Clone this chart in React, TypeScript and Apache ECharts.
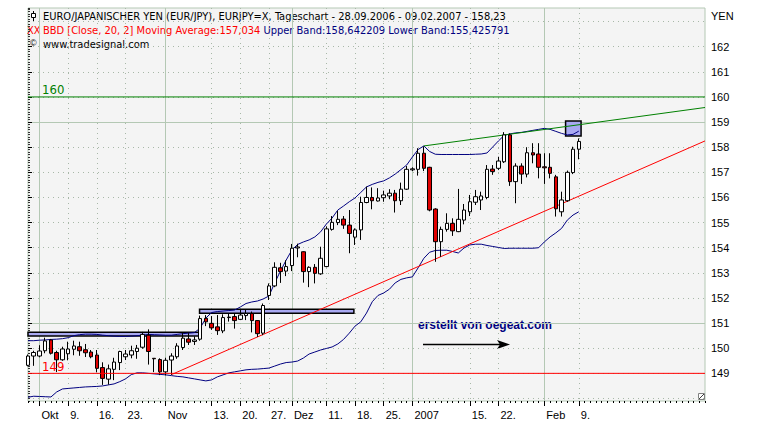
import React, { useEffect, useRef } from 'react';
import * as echarts from 'echarts';

// ---------- data ----------
const DATES = [
  '28.09.2006', '29.09.2006',
  '02.10.2006', '03.10.2006', '04.10.2006', '05.10.2006', '06.10.2006',
  '09.10.2006', '10.10.2006', '11.10.2006', '12.10.2006', '13.10.2006',
  '16.10.2006', '17.10.2006', '18.10.2006', '19.10.2006', '20.10.2006',
  '23.10.2006', '24.10.2006', '25.10.2006', '26.10.2006', '27.10.2006',
  '30.10.2006', '31.10.2006',
  '01.11.2006', '02.11.2006', '03.11.2006',
  '06.11.2006', '07.11.2006', '08.11.2006', '09.11.2006', '10.11.2006',
  '13.11.2006', '14.11.2006', '15.11.2006', '16.11.2006', '17.11.2006',
  '20.11.2006', '21.11.2006', '22.11.2006', '23.11.2006', '24.11.2006',
  '27.11.2006', '28.11.2006', '29.11.2006', '30.11.2006',
  '01.12.2006',
  '04.12.2006', '05.12.2006', '06.12.2006', '07.12.2006', '08.12.2006',
  '11.12.2006', '12.12.2006', '13.12.2006', '14.12.2006', '15.12.2006',
  '18.12.2006', '19.12.2006', '20.12.2006', '21.12.2006', '22.12.2006',
  '25.12.2006', '26.12.2006', '27.12.2006', '28.12.2006', '29.12.2006',
  '01.01.2007', '02.01.2007', '03.01.2007', '04.01.2007', '05.01.2007',
  '08.01.2007', '09.01.2007', '10.01.2007', '11.01.2007', '12.01.2007',
  '15.01.2007', '16.01.2007', '17.01.2007', '18.01.2007', '19.01.2007',
  '22.01.2007', '23.01.2007', '24.01.2007', '25.01.2007', '26.01.2007',
  '29.01.2007', '30.01.2007', '31.01.2007',
  '01.02.2007', '02.02.2007',
  '05.02.2007', '06.02.2007', '07.02.2007', '08.02.2007', '09.02.2007',
];
// empty trading-day slots to the right of the last candle
const FUTURE_SLOTS = 22;

// [open, close, low, high]
const OHLC = [
  [149.32, 149.69, 149.28, 149.75], [149.69, 149.83, 149.3, 149.9],
  [149.69, 149.89, 149.64, 150.12], [149.9, 150.29, 149.8, 150.42], [150.33, 149.8, 149.75, 150.37], [149.83, 149.54, 149.05, 149.9], [149.54, 149.97, 149.5, 150.06],
  [149.78, 149.97, 149.52, 150.26], [149.96, 150.09, 149.72, 150.3], [150.06, 149.9, 149.7, 150.26], [149.94, 149.82, 149.65, 150.17], [149.85, 149.66, 149.6, 149.93],
  [149.73, 149.2, 149.04, 149.93], [149.23, 148.8, 148.54, 149.44], [148.77, 149.18, 148.55, 149.35], [149.16, 149.45, 148.73, 149.62], [149.43, 149.87, 149.13, 149.9],
  [149.66, 149.77, 149.53, 149.93], [149.73, 149.9, 149.6, 150.1], [149.87, 150.0, 149.58, 150.13], [150.04, 150.55, 149.98, 150.65], [150.52, 149.87, 149.35, 150.75],
  [149.6, 149.58, 149.05, 149.61], [149.55, 149.06, 148.93, 149.6],
  [149.06, 149.52, 148.92, 149.62], [149.53, 149.69, 148.94, 149.8], [149.66, 150.09, 149.58, 150.2],
  [150.03, 150.4, 149.93, 150.6], [150.37, 150.24, 150.13, 150.6], [150.27, 150.33, 150.13, 150.47], [150.36, 151.18, 150.3, 151.3], [151.19, 151.05, 150.88, 151.32],
  [150.99, 150.81, 150.73, 151.28], [150.85, 150.7, 150.53, 151.32], [150.69, 151.22, 150.6, 151.35], [151.24, 151.22, 151.06, 151.39], [151.26, 151.1, 150.78, 151.39],
  [151.15, 151.32, 151.12, 151.56], [151.3, 151.38, 151.12, 151.55], [151.38, 151.1, 150.63, 151.46], [151.1, 150.58, 150.45, 151.12], [150.6, 151.7, 150.52, 151.78],
  [152.1, 152.48, 151.92, 152.58], [152.48, 153.22, 152.43, 153.42], [153.2, 153.05, 152.6, 153.4], [153.07, 153.25, 152.87, 153.5],
  [153.29, 153.98, 153.07, 154.15],
  [153.99, 154.03, 153.62, 154.16], [153.84, 153.05, 152.61, 153.86], [153.05, 153.22, 152.43, 153.26], [153.22, 152.98, 152.58, 153.35], [152.96, 153.58, 152.92, 154.04],
  [153.25, 154.75, 153.22, 154.85], [154.73, 155.01, 154.68, 155.26], [155.0, 155.13, 154.9, 155.46], [155.14, 154.9, 154.75, 155.26], [154.9, 154.57, 153.78, 155.5],
  [154.42, 154.71, 154.11, 154.77], [154.71, 155.8, 154.31, 156.03], [155.8, 156.0, 155.77, 156.43], [156.0, 155.87, 155.53, 156.4], [155.86, 155.98, 155.84, 156.37],
  [155.99, 156.1, 155.83, 156.27], [156.06, 156.17, 155.93, 156.33], [156.17, 155.87, 155.4, 156.3], [155.87, 156.33, 155.7, 156.59], [156.33, 157.12, 156.3, 157.25],
  [157.1, 157.14, 157.05, 157.2], [157.12, 157.76, 156.87, 157.96], [157.76, 157.16, 157.05, 158.03], [157.2, 155.5, 155.45, 157.22], [155.54, 154.24, 153.44, 155.57],
  [154.24, 154.73, 153.64, 154.84], [154.73, 154.97, 154.64, 155.37], [154.97, 154.67, 154.47, 155.17], [154.64, 155.13, 154.62, 156.34], [155.1, 155.5, 154.93, 155.74],
  [155.43, 155.83, 155.26, 156.1], [155.81, 156.03, 155.7, 156.3], [155.9, 156.06, 155.5, 156.23], [156.0, 157.12, 155.93, 157.29], [157.13, 157.03, 156.9, 157.29],
  [157.16, 157.45, 157.09, 157.62], [157.42, 158.49, 157.37, 158.6], [158.49, 156.63, 156.46, 158.55], [156.63, 157.25, 155.77, 157.36], [157.25, 156.93, 156.54, 157.36],
  [156.93, 157.78, 156.8, 158.0], [157.78, 157.69, 157.36, 158.16], [157.73, 157.2, 156.76, 158.16],
  [157.22, 157.18, 156.54, 157.76], [157.2, 156.96, 156.76, 157.76],
  [156.82, 155.55, 155.24, 156.9], [155.43, 155.9, 155.24, 156.23], [155.87, 157.0, 155.83, 157.07], [156.99, 157.92, 156.93, 158.02], [157.92, 158.23, 157.52, 158.35],
];

const UPPER_BAND = [
  150.3, 150.3, 150.32, 150.33, 150.35, 150.36, 150.38, 150.42, 150.5, 150.54,
  150.56, 150.56, 150.55, 150.52, 150.5, 150.48, 150.47, 150.47, 150.48, 150.5,
  150.52, 150.55, 150.54, 150.53, 150.52, 150.52, 150.55, 150.58, 150.6, 150.62,
  150.8, 151.2, 151.42, 151.46, 151.48, 151.5, 151.52, 151.64, 151.78, 151.84,
  151.88, 151.96, 152.08, 152.6, 153.07, 153.51, 153.91, 154.13, 154.23, 154.31,
  154.43, 154.63, 154.94, 155.18, 155.5, 155.66, 155.83, 155.98, 156.2, 156.42,
  156.52, 156.6, 156.66, 156.78, 156.93, 157.11, 157.29, 157.61, 157.91, 158.05,
  157.83, 157.72, 157.71, 157.71, 157.71, 157.71, 157.71, 157.71, 157.72, 157.73,
  157.77, 158.01, 158.25, 158.47, 158.53, 158.57, 158.59, 158.63, 158.67, 158.71,
  158.75, 158.71, 158.63, 158.55, 158.49, 158.51, 158.64,
];

const LOWER_BAND = [
  148.05, 148.09, 148.08, 148.07, 148.06, 148.26, 148.38, 148.4, 148.42, 148.44,
  148.46, 148.47, 148.48, 148.5, 148.54, 148.58, 148.67, 148.78, 148.95, 149.02,
  149.02, 149.0, 148.98, 148.96, 148.94, 148.91, 148.88, 148.86, 148.82, 148.78,
  148.74, 148.7, 148.74, 148.86, 148.94, 149.02, 149.06, 149.1, 149.14, 149.16,
  149.17, 149.19, 149.21, 149.29, 149.37, 149.43, 149.45, 149.49, 149.61, 149.77,
  149.85, 149.93, 149.99, 150.05, 150.17, 150.35, 150.6, 150.88, 151.05, 151.4,
  151.85, 152.1, 152.2, 152.35, 152.6, 152.74, 152.8, 152.84, 153.2, 153.58,
  153.82, 153.89, 153.9, 153.9, 153.85, 153.79, 153.99, 154.11, 154.14, 154.14,
  154.09, 154.05, 154.01, 153.97, 153.98, 153.98, 153.98, 153.98, 153.98, 154.0,
  154.23, 154.43, 154.59, 154.77, 155.1, 155.3, 155.43,
];

// trend lines: [slot index, price]
const GREEN_TREND = [[69, 158.05], [118, 159.58]];
const RED_TREND = [[25, 148.95], [118, 158.25]];

// horizontal levels
const LEVEL_160 = 160;
const LEVEL_149 = 149;

// marked zones: [fromSlot, toSlot, low, high]
const ZONES = [
  [0, 29.9, 150.49, 150.635],
  [29.9, 56.8, 151.39, 151.55],
  [93.7, 96.4, 158.45, 159.04],
];

// x tick labels by date
const TICK_LABELS: Record<string, string> = {
  '02.10.2006': 'Okt', '09.10.2006': '9.', '16.10.2006': '16.', '23.10.2006': '23.',
  '01.11.2006': 'Nov', '13.11.2006': '13.', '20.11.2006': '20.', '27.11.2006': '27.',
  '01.12.2006': 'Dez', '11.12.2006': '11.', '18.12.2006': '18.', '25.12.2006': '25.',
  '01.01.2007': '2007', '15.01.2007': '15.', '22.01.2007': '22.',
  '01.02.2007': 'Feb', '09.02.2007': '9.',
};
const MONTH_LABELS = ['Okt', 'Nov', 'Dez', '2007', 'Feb'];

// y axis
const Y_MIN = 147.9;
const Y_MAX = 163.54;
const Y_LABEL_MIN = 148;
const Y_LABEL_MAX = 163;
const Y_SOLID = [151, 159];

const HEADER_1 = 'EURO/JAPANISCHER YEN (EUR/JPY), EURJPY=X, Tageschart - 28.09.2006 - 09.02.2007 - 158,23';
const HEADER_2A = 'BBD [Close, 20, 2] Moving Average:157,034';
const HEADER_2B = 'Upper Band:158,642209 Lower Band:155,425791';
const HEADER_3 = 'www.tradesignal.com';
const CREDIT = 'erstellt von oegeat.com';

// ---------- layout ----------
const W = 764;
const H = 434;
const GL = 28;
const GR = 705;
const GT = 8;
const GB = 401;

const NARROW = '"Liberation Sans Narrow", "Arial Narrow", "DejaVu Sans Condensed", sans-serif';
const SANS = '"Liberation Sans", Arial, sans-serif';

function levelSeries(name: string, value: number, color: string, lastSlot: number) {
  return {
    type: 'line', name, xAxisIndex: 2, yAxisIndex: 0, z: 4,
    symbol: 'circle', symbolSize: 0, showSymbol: true,
    lineStyle: { color, width: 1, type: 'solid' },
    itemStyle: { color },
    data: [
      {
        value: [0, value],
        label: {
          show: true, position: 'right', distance: 14, offset: [0, -7],
          formatter: String(value), color, fontSize: 13, fontFamily: NARROW,
        },
      },
      { value: [lastSlot, value] },
    ],
  };
}

export default function App() {
  const ref = useRef<HTMLDivElement>(null);

  useEffect(() => {
    if (!ref.current) return;
    const chart = echarts.init(ref.current, null, { renderer: 'svg' });

    const cats = [...DATES];
    for (let k = 1; k <= FUTURE_SLOTS; k++) cats.push('+' + k);
    const labelIdx = new Set<number>();
    const monthIdx = new Set<number>();
    cats.forEach((c, i) => {
      if (TICK_LABELS[c]) {
        labelIdx.add(i);
        if (MONTH_LABELS.includes(TICK_LABELS[c])) monthIdx.add(i);
      }
    });
    const pxPerUnit = (GB - GT) / (Y_MAX - Y_MIN);
    const yPx = (v: number) => GT + (Y_MAX - v) * pxPerUnit;
    const lastSlot = cats.length - 1;

    const gridBase = { left: GL, right: W - GR };

    const option: any = {
      animation: false,
      backgroundColor: '#ffffff',
      grid: [
        { ...gridBase, top: GT, bottom: H - GB, show: true, backgroundColor: '#f4f4f4', borderColor: '#b4c8b4', borderWidth: 1 },
        { ...gridBase, top: yPx(Y_LABEL_MAX), bottom: H - yPx(Y_LABEL_MIN), show: false },
        { ...gridBase, top: yPx(Y_SOLID[1]), bottom: H - yPx(Y_SOLID[0]), show: false },
      ],
      xAxis: [
        {
          type: 'category', gridIndex: 0, data: cats, boundaryGap: false, position: 'bottom',
          axisLine: { show: false },
          axisTick: { show: true, interval: 0, length: 2, lineStyle: { color: '#000' } },
          axisLabel: { show: false },
          splitLine: { show: true, interval: (i: number) => labelIdx.has(i) && !monthIdx.has(i), lineStyle: { color: '#a8b8a8', type: [1, 4], width: 1 } },
        },
        {
          type: 'category', gridIndex: 0, data: cats, boundaryGap: false, position: 'bottom',
          axisLine: { show: false },
          axisTick: { show: true, interval: (i: number) => labelIdx.has(i), length: 5, lineStyle: { color: '#000' } },
          axisLabel: {
            show: true, interval: (i: number) => labelIdx.has(i),
            formatter: (v: string) => TICK_LABELS[v] || '',
            align: 'left', margin: 8, padding: [0, 0, 0, 2],
            fontSize: 11, color: '#000', fontFamily: SANS,
          },
          splitLine: { show: true, interval: (i: number) => monthIdx.has(i), lineStyle: { color: '#b4c8b4', width: 1 } },
        },
        { type: 'value', gridIndex: 0, min: 0, max: lastSlot, show: false },
        { type: 'value', gridIndex: 1, min: 0, max: lastSlot, show: false },
        { type: 'value', gridIndex: 2, min: 0, max: lastSlot, show: false },
      ],
      yAxis: [
        {
          type: 'value', gridIndex: 0, position: 'right', min: Y_MIN, max: Y_MAX, interval: 0.1,
          axisLine: { show: false },
          axisTick: { show: true, length: 2, lineStyle: { color: '#333' } },
          axisLabel: { show: false },
          splitLine: { show: false },
        },
        {
          type: 'value', gridIndex: 1, position: 'right', min: Y_LABEL_MIN, max: Y_LABEL_MAX, interval: 1,
          axisLine: { show: false },
          axisTick: { show: true, length: 4, lineStyle: { color: '#000' } },
          axisLabel: { show: true, showMinLabel: false, showMaxLabel: false, margin: 6, fontSize: 11, color: '#000', fontFamily: SANS },
          splitLine: { show: true, lineStyle: { color: '#a8b8a8', type: [1, 4], width: 1 } },
        },
        {
          type: 'value', gridIndex: 2, position: 'right', min: Y_SOLID[0], max: Y_SOLID[1], interval: Y_SOLID[1] - Y_SOLID[0],
          axisLine: { show: false }, axisTick: { show: false }, axisLabel: { show: false },
          splitLine: { show: true, lineStyle: { color: '#b4c8b4', width: 1 } },
        },
      ],
      series: [
        {
          type: 'line', name: 'zones', xAxisIndex: 2, yAxisIndex: 0, data: [], z: 1,
          markArea: {
            silent: true,
            label: { show: false },
            itemStyle: { color: '#a9a9f2', borderColor: '#000', borderWidth: 1.5 },
            data: ZONES.map(([x0, x1, y0, y1]) => [{ xAxis: x0, yAxis: y1 }, { xAxis: x1, yAxis: y0 }]),
          },
        },
        levelSeries('level 160', LEVEL_160, '#008000', lastSlot),
        levelSeries('level 149', LEVEL_149, '#ff0000', lastSlot),
        {
          type: 'line', name: 'Upper Band', xAxisIndex: 0, yAxisIndex: 0, data: UPPER_BAND,
          symbol: 'none', lineStyle: { color: '#000080', width: 1 }, z: 2,
        },
        {
          type: 'line', name: 'Lower Band', xAxisIndex: 0, yAxisIndex: 0, data: LOWER_BAND,
          symbol: 'none', lineStyle: { color: '#000080', width: 1 }, z: 2,
        },
        {
          type: 'line', name: 'green trend', xAxisIndex: 2, yAxisIndex: 0, data: GREEN_TREND,
          symbol: 'none', lineStyle: { color: '#008000', width: 1 }, z: 2,
        },
        {
          type: 'line', name: 'red trend', xAxisIndex: 2, yAxisIndex: 0, data: RED_TREND,
          symbol: 'none', lineStyle: { color: '#ff0000', width: 1 }, z: 2,
        },
        {
          type: 'candlestick', name: 'EUR/JPY', xAxisIndex: 0, yAxisIndex: 0,
          data: OHLC, barWidth: 4, z: 3,
          itemStyle: { color: '#ffffff', color0: '#e00000', borderColor: '#000000', borderColor0: '#000000', borderWidth: 1 },
        },
      ],
      graphic: [
        // header icons
        { type: 'line', shape: { x1: 33.5, y1: 11, x2: 33.5, y2: 21 }, style: { stroke: '#000', lineWidth: 1 } },
        { type: 'rect', shape: { x: 31.5, y: 13.5, width: 4, height: 4 }, style: { fill: '#fff', stroke: '#000', lineWidth: 1 } },
        { type: 'text', x: 43, y: 16, style: { text: HEADER_1, fill: '#000', font: '11px ' + NARROW, verticalAlign: 'middle', align: 'left' } },
        { type: 'text', x: 27, y: 30, style: { text: 'XX', fill: '#ff0000', font: '11px ' + NARROW, verticalAlign: 'middle', align: 'left' } },
        {
          type: 'text', x: 43, y: 30,
          style: {
            text: '{r|' + HEADER_2A + '} {b|' + HEADER_2B + '}',
            font: '11px ' + NARROW, verticalAlign: 'middle', align: 'left',
            rich: { r: { fill: '#ff0000', color: '#ff0000', font: '11px ' + NARROW }, b: { fill: '#000080', color: '#000080', font: '11px ' + NARROW } },
          },
        },
        { type: 'text', x: 30, y: 43, style: { text: '©', fill: '#000', font: '9px ' + SANS, verticalAlign: 'middle', align: 'left' } },
        { type: 'text', x: 43, y: 44, style: { text: HEADER_3, fill: '#000', font: '11px ' + NARROW, verticalAlign: 'middle', align: 'left' } },
        // axis unit
        { type: 'text', x: 711, y: 16, style: { text: 'YEN', fill: '#000', font: '11px ' + SANS, verticalAlign: 'middle', align: 'left' } },
        // credit + arrow
        { type: 'text', x: 418, y: 325, style: { text: CREDIT, fill: '#000080', font: 'bold 12px ' + SANS, verticalAlign: 'middle', align: 'left' } },
        { type: 'line', shape: { x1: 423, y1: 344.5, x2: 503, y2: 344.5 }, style: { stroke: '#000', lineWidth: 1.5 } },
        { type: 'polygon', shape: { points: [[497, 340], [510, 344.5], [497, 349], [500, 344.5]] }, style: { fill: '#000' } },
        // resize glyph
        { type: 'rect', shape: { x: 698.5, y: 393.5, width: 6, height: 6 }, style: { fill: '#fff', stroke: '#808080', lineWidth: 1 } },
        { type: 'line', shape: { x1: 699, y1: 399, x2: 704, y2: 394 }, style: { stroke: '#404040', lineWidth: 1 } },
      ],
    };

    chart.setOption(option);
    return () => chart.dispose();
  }, []);

  return <div ref={ref} style={{ position: 'absolute', left: 0, top: 0, width: W, height: H }} />;
}
